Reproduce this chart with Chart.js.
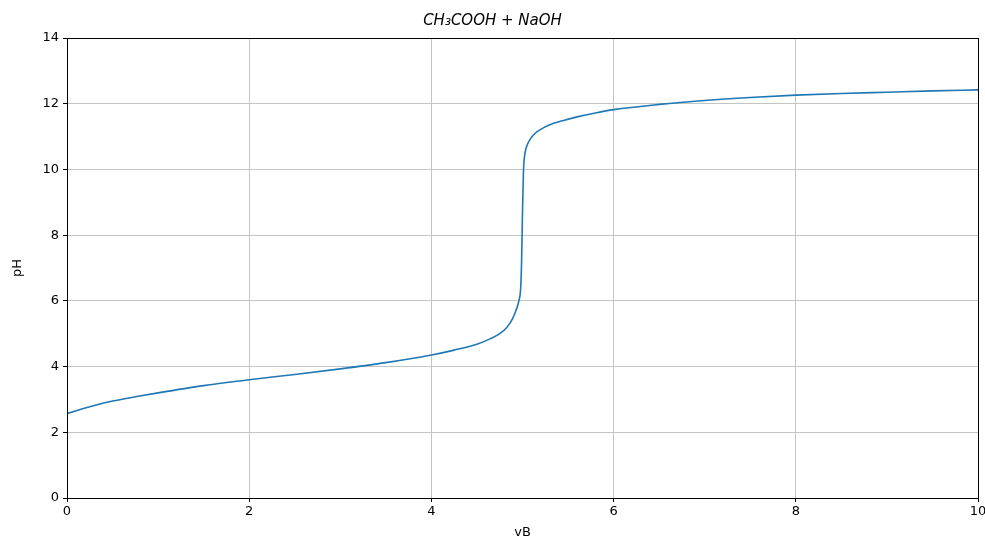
<!DOCTYPE html>
<html><head><meta charset="utf-8">
<script src="https://cdn.jsdelivr.net/npm/chart.js@4"></script>
<style>html,body{margin:0;padding:0;background:#fff}#wrap{width:985px;height:541px}</style>
</head><body><div id="wrap"><canvas id="c"></canvas></div>
<script>
const titleText = "CH\u2083COOH + NaOH";
const xLabel = "vB";
const yLabel = "pH";
const vB = [0, 0.25, 0.5, 0.75, 1, 1.5, 2, 2.5, 3, 3.5, 4, 4.25, 4.5, 4.65, 4.75, 4.83, 4.89, 4.93, 4.96, 4.98, 4.99, 5.0, 5.01, 5.02, 5.04, 5.07, 5.12, 5.2, 5.3, 5.45, 5.6, 5.8, 6, 6.5, 7, 7.5, 8, 8.5, 9, 9.5, 10];
const pH = [2.57, 2.78, 2.95, 3.08, 3.2, 3.42, 3.6, 3.76, 3.93, 4.12, 4.35, 4.5, 4.68, 4.85, 5.0, 5.2, 5.45, 5.72, 6.0, 6.4, 7.2, 8.7, 9.9, 10.35, 10.65, 10.85, 11.05, 11.22, 11.36, 11.49, 11.6, 11.72, 11.82, 11.98, 12.1, 12.19, 12.26, 12.31, 12.35, 12.39, 12.42];
const xTicks = [0, 2, 4, 6, 8, 10];
const yTicks = [0, 2, 4, 6, 8, 10, 12, 14];

const frame = {
  id: 'frame',
  afterDraw(chart) {
    const a = chart.chartArea, ctx = chart.ctx;
    ctx.save();
    ctx.strokeStyle = '#000';
    ctx.lineWidth = 1;
    ctx.strokeRect(Math.round(a.left) + 0.5, Math.round(a.top) + 0.5, Math.round(a.right - a.left), Math.round(a.bottom - a.top));
    ctx.restore();
  }
};

new Chart(document.getElementById('c'), {
  type: 'line',
  data: {
    datasets: [{
      data: vB.map((x, i) => ({x: x, y: pH[i]})),
      borderColor: '#1f77b4',
      borderWidth: 1.6,
      pointRadius: 0,
      cubicInterpolationMode: 'monotone',
      fill: false
    }]
  },
  options: {
    responsive: true,
    maintainAspectRatio: false,
    animation: false,
    layout: {padding: {left: 0, right: 0, top: 0, bottom: 0}},
    plugins: {
      legend: {display: false},
      tooltip: {enabled: false},
      title: {
        display: true,
        text: titleText,
        color: '#000',
        font: {family: 'DejaVu Sans', size: 15, style: 'italic', weight: 'normal', lineHeight: 1.2},
        padding: {top: 12, bottom: 8}
      }
    },
    scales: {
      x: {
        type: 'linear', min: 0, max: 10,
        afterBuildTicks: s => { s.ticks = xTicks.map(v => ({value: v})); },
        afterFit: s => { s.height = 43; s.paddingRight = 7; },
        ticks: {color: '#000', font: {family: 'DejaVu Sans', size: 13}, padding: 2, maxRotation: 0},
        grid: {color: '#c4c4c4', lineWidth: 1, tickLength: 4, tickColor: '#000'},
        border: {color: '#000', width: 1},
        title: {display: true, text: xLabel, color: '#000', font: {family: 'DejaVu Sans', size: 13}, padding: {top: 0, bottom: 1}}
      },
      y: {
        type: 'linear', min: 0, max: 14,
        afterBuildTicks: s => { s.ticks = yTicks.map(v => ({value: v})); },
        afterFit: s => { s.width = 67; },
        ticks: {color: '#000', font: {family: 'DejaVu Sans', size: 13}, padding: 4},
        grid: {color: '#c4c4c4', lineWidth: 1, tickLength: 4, tickColor: '#000'},
        border: {color: '#000', width: 1},
        title: {display: true, text: yLabel, color: '#000', font: {family: 'DejaVu Sans', size: 13}, padding: {top: 10, bottom: 6}}
      }
    }
  },
  plugins: [frame]
});
</script></body></html>
